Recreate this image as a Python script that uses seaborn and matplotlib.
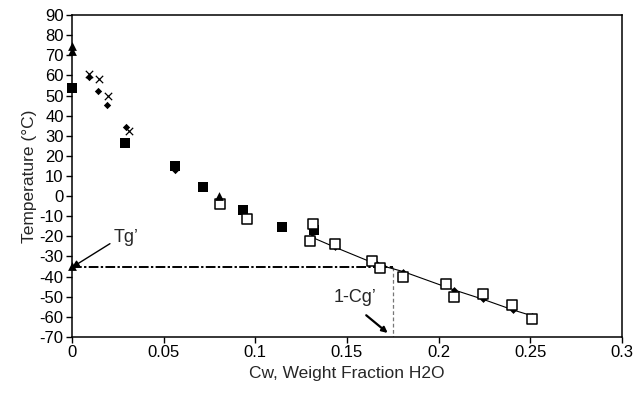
import matplotlib
matplotlib.use("Agg")
import matplotlib.pyplot as plt
import seaborn as sns
import pandas as pd

# Glass transition / freezing data: temperature vs water weight fraction
filled_sq_x = [0.0, 0.0289, 0.056, 0.0713, 0.0935, 0.1145, 0.1322]
filled_sq_y = [53.5, 26.2, 15.1, 4.4, -6.9, -15.2, -16.8]

open_sq_x = [0.0805, 0.0953, 0.1316, 0.1298, 0.1435, 0.1638, 0.168, 0.1807,
             0.204, 0.2085, 0.224, 0.2402, 0.2507]
open_sq_y = [-3.9, -11.5, -13.7, -22.4, -23.7, -32.2, -35.9, -40.3,
             -43.8, -50.0, -48.8, -54.1, -61.0]

tri_x = [0.0, 0.0, 0.0, 0.0803]
tri_y = [74.5, 72.0, -34.5, 0.0]

cross_x = [0.0095, 0.0146, 0.0198, 0.031]
cross_y = [60.5, 58.0, 50.0, 32.5]

dot_x = [0.0095, 0.0142, 0.0193, 0.0295, 0.056]
dot_y = [59.0, 52.2, 45.4, 34.3, 13.0]

# Freezing curve fit
curve_x = [0.131, 0.1435, 0.1662, 0.1695, 0.1807, 0.2084, 0.2243, 0.2407, 0.2507]
curve_y = [-20.5, -25.4, -33.9, -34.7, -37.5, -46.6, -51.3, -56.6, -59.4]

tg_prime = -35.4
cg_water = 0.175

x_ticks = [0, 0.05, 0.1, 0.15, 0.2, 0.25, 0.3]
x_tick_labels = ["0", "0.05", "0.1", "0.15", "0.2", "0.25", "0.3"]
y_ticks = list(range(-70, 91, 10))

sns.set_style("ticks")
plt.rcParams["font.family"] = ["Liberation Sans", "DejaVu Sans"]
plt.rcParams["axes.unicode_minus"] = False

fig = plt.figure(figsize=(6.33, 3.94), dpi=100)
ax = fig.add_axes([0.1137, 0.1447, 0.8689, 0.8172])

# reference lines for Tg' and 1-Cg'
ax.plot([0, cg_water], [tg_prime, tg_prime], color="black", lw=1.4,
        linestyle=(0, (5, 1.2, 1.2, 1.2)), zorder=1)
ax.plot([cg_water, cg_water], [tg_prime, -70], color="#777777", lw=0.9,
        linestyle=(0, (3, 2)), zorder=1)

curve = pd.DataFrame({"x": curve_x, "y": curve_y})
sns.lineplot(data=curve, x="x", y="y", ax=ax, color="black", lw=0.8,
             marker="D", markersize=3.5, markeredgewidth=0, zorder=3)

sns.scatterplot(x=filled_sq_x, y=filled_sq_y, ax=ax, marker="s", s=60,
                color="black", edgecolor="black", linewidth=0, zorder=4,
                clip_on=False)
sns.scatterplot(x=open_sq_x, y=open_sq_y, ax=ax, marker="s", s=55,
                facecolor="white", edgecolor="black", linewidth=1.1, zorder=5,
                clip_on=False)
sns.scatterplot(x=tri_x, y=tri_y, ax=ax, marker="^", s=40,
                color="black", edgecolor="black", linewidth=0, zorder=6,
                clip_on=False)
sns.scatterplot(x=cross_x, y=cross_y, ax=ax, marker="x", s=28,
                color="black", linewidth=0.9, zorder=6, clip_on=False)
sns.scatterplot(x=dot_x, y=dot_y, ax=ax, marker="D", s=14,
                color="black", edgecolor="black", linewidth=0, zorder=6,
                clip_on=False)

ax.annotate("Tg\u2019", xy=(0, tg_prime), xytext=(0.0225, -20.5),
            ha="left", va="center", fontsize=13,
            arrowprops=dict(arrowstyle="-|>", color="black", lw=1.0,
                            shrinkA=0, shrinkB=0, relpos=(0, 0.25),
                            mutation_scale=10))
ax.text(0.1544, -50.3, "1-Cg\u2019", ha="center", va="center", fontsize=13)
ax.annotate("", xy=(0.1722, -68.0), xytext=(0.1605, -59.2),
            arrowprops=dict(arrowstyle="-|>", color="black", lw=1.6,
                            shrinkA=0, shrinkB=0, mutation_scale=8))

ax.set_xlim(0, 0.3)
ax.set_ylim(-70, 90)
ax.set_xticks(x_ticks)
ax.set_xticklabels(x_tick_labels)
ax.set_yticks(y_ticks)
ax.tick_params(axis="both", labelsize=12, length=4, width=1, direction="out",
               colors="black", pad=2)
for sp in ax.spines.values():
    sp.set_linewidth(1.1)
    sp.set_color("black")
ax.set_xlabel("Cw, Weight Fraction H2O", fontsize=12.5, labelpad=4)
ax.set_ylabel("Temperature (\u00b0C)", fontsize=12.5, labelpad=2)

fig.savefig("out.png", dpi=100)
